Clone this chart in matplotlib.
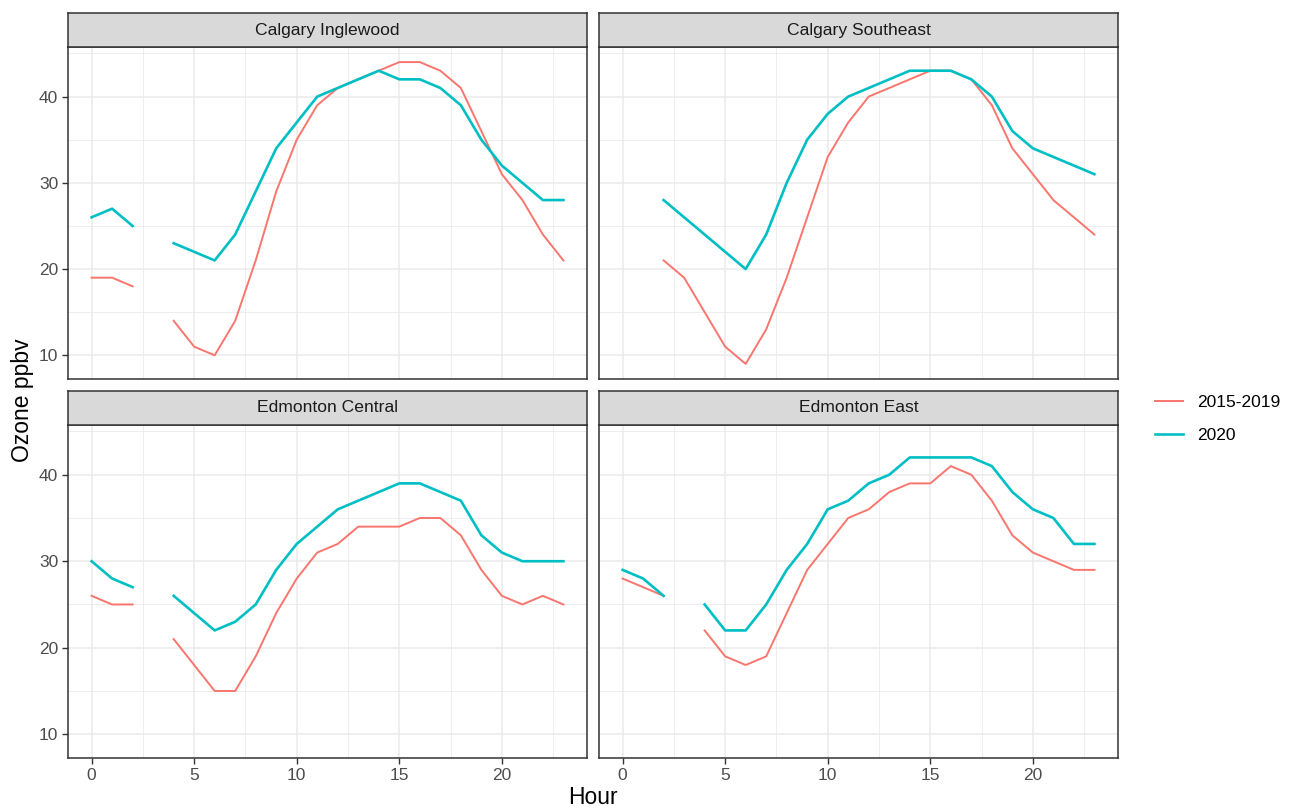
import numpy as np
import matplotlib.pyplot as plt

plt.rcParams['font.family'] = ['Liberation Sans', 'DejaVu Sans']

# hourly mean ozone (ppbv), NaN = no data for that hour
hours = np.arange(24)
nan = np.nan

stations = ['Calgary Inglewood', 'Calgary Southeast', 'Edmonton Central', 'Edmonton East']
series_names = ['2015-2019', '2020']
series_colors = ['#F8766D', '#00BFC4']
series_widths = [1.4, 1.9]

ingle_base = [19, 19, 18, nan, 14, 11, 10, 14, 21, 29, 35, 39, 41, 42, 43, 44, 44, 43, 41, 36, 31, 28, 24, 21]
ingle_2020 = [26, 27, 25, nan, 23, 22, 21, 24, 29, 34, 37, 40, 41, 42, 43, 42, 42, 41, 39, 35, 32, 30, 28, 28]

se_base = [nan, nan, 21, 19, 15, 11, 9, 13, 19, 26, 33, 37, 40, 41, 42, 43, 43, 42, 39, 34, 31, 28, 26, 24]
se_2020 = [nan, nan, 28, 26, 24, 22, 20, 24, 30, 35, 38, 40, 41, 42, 43, 43, 43, 42, 40, 36, 34, 33, 32, 31]

edc_base = [26, 25, 25, nan, 21, 18, 15, 15, 19, 24, 28, 31, 32, 34, 34, 34, 35, 35, 33, 29, 26, 25, 26, 25]
edc_2020 = [30, 28, 27, nan, 26, 24, 22, 23, 25, 29, 32, 34, 36, 37, 38, 39, 39, 38, 37, 33, 31, 30, 30, 30]

ede_base = [28, 27, 26, nan, 22, 19, 18, 19, 24, 29, 32, 35, 36, 38, 39, 39, 41, 40, 37, 33, 31, 30, 29, 29]
ede_2020 = [29, 28, 26, nan, 25, 22, 22, 25, 29, 32, 36, 37, 39, 40, 42, 42, 42, 42, 41, 38, 36, 35, 32, 32]

station_data = {
    'Calgary Inglewood': (ingle_base, ingle_2020),
    'Calgary Southeast': (se_base, se_2020),
    'Edmonton Central': (edc_base, edc_2020),
    'Edmonton East': (ede_base, ede_2020),
}

W, H = 1289, 810
fig = plt.figure(figsize=(W / 100, H / 100), dpi=100)


def rect(x0, y0, x1, y1):
    # pixel box (top-left origin) -> figure fraction
    return [x0 / W, 1 - y1 / H, (x1 - x0) / W, (y1 - y0) / H]


cols = [(68, 587), (599, 1118)]
rows = [(13, 47, 379), (391, 425, 758)]  # strip top, panel top, panel bottom

for i, name in enumerate(stations):
    r, c = divmod(i, 2)
    x0, x1 = cols[c]
    st, pt, pb = rows[r]

    ax = fig.add_axes(rect(x0, pt, x1, pb))
    base, new = station_data[name]
    for vals, lab, col, lw in zip((base, new), series_names, series_colors, series_widths):
        ax.plot(hours, vals, color=col, lw=lw, label=lab, zorder=3)

    ax.set_xlim(-1.15, 24.15)
    ax.set_ylim(7.25, 45.75)
    ax.set_xticks([0, 5, 10, 15, 20])
    ax.set_xticks([2.5, 7.5, 12.5, 17.5, 22.5], minor=True)
    ax.set_yticks([10, 20, 30, 40])
    ax.set_yticks([15, 25, 35, 45], minor=True)
    ax.grid(which='major', color='#EBEBEB', lw=1.1, zorder=0)
    ax.grid(which='minor', color='#EBEBEB', lw=0.6, zorder=0)
    ax.tick_params(which='minor', length=0)
    ax.tick_params(which='major', length=4, width=1, color='#333333',
                   labelsize=12.5, labelcolor='#4D4D4D', pad=3)
    for sp in ax.spines.values():
        sp.set_color('#333333')
        sp.set_linewidth(1.1)
    if r == 0:
        ax.tick_params(axis='x', which='major', length=0, labelbottom=False)
    if c == 1:
        ax.tick_params(axis='y', which='major', length=0, labelleft=False)

    sax = fig.add_axes(rect(x0, st, x1, pt))
    sax.set_facecolor('#D9D9D9')
    sax.set_xticks([])
    sax.set_yticks([])
    for sp in sax.spines.values():
        sp.set_color('#333333')
        sp.set_linewidth(1.1)
    sax.text(0.5, 0.5, name, ha='center', va='center', fontsize=12.6,
             color='#1A1A1A', transform=sax.transAxes)

fig.text(593 / W, 1 - 797 / H, 'Hour', ha='center', va='center', fontsize=16.5)
fig.text(22 / W, 1 - 400 / H, 'Ozone ppbv', ha='center', va='center',
         rotation=90, fontsize=16.5)

# legend
handles = [plt.Line2D([], [], color=c, lw=lw) for c, lw in zip(series_colors, series_widths)]
fig.legend(handles, series_names, loc='center left',
           bbox_to_anchor=(1155 / W, 1 - 419 / H), frameon=False,
           borderpad=0, borderaxespad=0,
           fontsize=12.5, handlelength=1.6, labelspacing=1.0, handletextpad=0.85)

fig.savefig('out.png', dpi=100)
